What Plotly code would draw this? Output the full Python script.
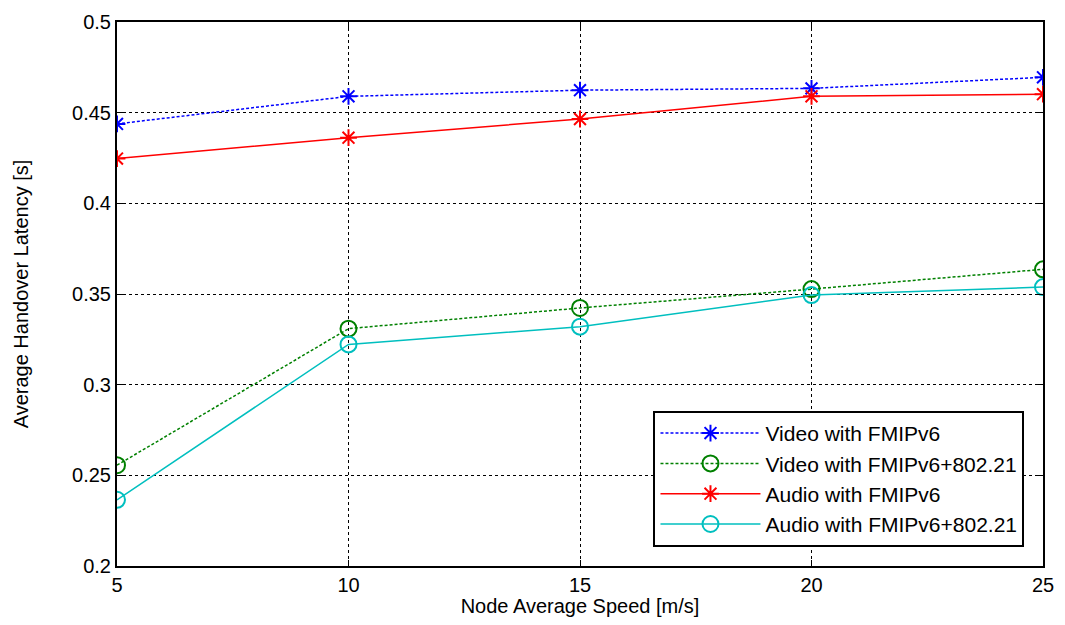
import plotly.graph_objects as go

speeds = [5, 10, 15, 20, 25]
video_fmip = [0.4438, 0.4590, 0.4624, 0.4634, 0.4695]
video_fmip_80221 = [0.2556, 0.3309, 0.3423, 0.3527, 0.3636]
audio_fmip = [0.4247, 0.4362, 0.4465, 0.4590, 0.4602]
audio_fmip_80221 = [0.2365, 0.3222, 0.3320, 0.3494, 0.3538]

x_ticks = [5, 10, 15, 20, 25]
y_ticks = [0.2, 0.25, 0.3, 0.35, 0.4, 0.45, 0.5]
y_tick_text = ["0.2", "0.25", "0.3", "0.35", "0.4", "0.45", "0.5"]

fig = go.Figure()
fig.add_trace(go.Scatter(x=speeds, y=video_fmip, name="Video with FMIPv6", mode="lines+markers",
                         line=dict(color="#0000ff", width=1.5, dash="3px,2px"),
                         marker=dict(symbol="asterisk-open", size=14, line=dict(color="#0000ff", width=2))))
fig.add_trace(go.Scatter(x=speeds, y=video_fmip_80221, name="Video with FMIPv6+802.21", mode="lines+markers",
                         line=dict(color="#008000", width=1.5, dash="3px,2px"),
                         marker=dict(symbol="circle-open", size=16, color="#008000", line=dict(color="#008000", width=2))))
fig.add_trace(go.Scatter(x=speeds, y=audio_fmip, name="Audio with FMIPv6", mode="lines+markers",
                         line=dict(color="#ff0000", width=1.5),
                         marker=dict(symbol="asterisk-open", size=14, line=dict(color="#ff0000", width=2))))
fig.add_trace(go.Scatter(x=speeds, y=audio_fmip_80221, name="Audio with FMIPv6+802.21", mode="lines+markers",
                         line=dict(color="#00bfbf", width=1.5),
                         marker=dict(symbol="circle-open", size=16, color="#00bfbf", line=dict(color="#00bfbf", width=2))))

font = "Liberation Sans, Arial, sans-serif"
fig.update_layout(
    width=1049, height=609,
    margin=dict(l=109, r=14, t=14, b=51),
    paper_bgcolor="white", plot_bgcolor="white",
    font=dict(family=font, size=18, color="black"),
    showlegend=True,
    legend=dict(x=0.98, y=0.035, xanchor="right", yanchor="bottom",
                bgcolor="white", bordercolor="black", borderwidth=2,
                font=dict(size=21, family=font), tracegroupgap=0, itemwidth=100),
    xaxis=dict(range=[5, 25], tickvals=x_ticks, ticks="inside", ticklen=6, tickcolor="black",
               showline=True, linecolor="black", linewidth=2, mirror="ticks",
               showgrid=True, gridcolor="black", griddash="dot", gridwidth=1,
               zeroline=False, tickfont=dict(size=20), automargin=False, ticklabeloverflow="allow",
               title=dict(text="Node Average Speed [m/s]", font=dict(size=20), standoff=5)),
    yaxis=dict(range=[0.2, 0.5], tickvals=y_ticks, ticktext=y_tick_text, ticks="inside", ticklen=6, tickcolor="black",
               showline=True, linecolor="black", linewidth=2, mirror="ticks",
               showgrid=True, gridcolor="black", griddash="dot", gridwidth=1,
               zeroline=False, tickfont=dict(size=20), automargin=False, ticklabeloverflow="allow",
               title=dict(text="Average Handover Latency [s]", font=dict(size=20), standoff=38)),
)
fig.write_html("out.html")
